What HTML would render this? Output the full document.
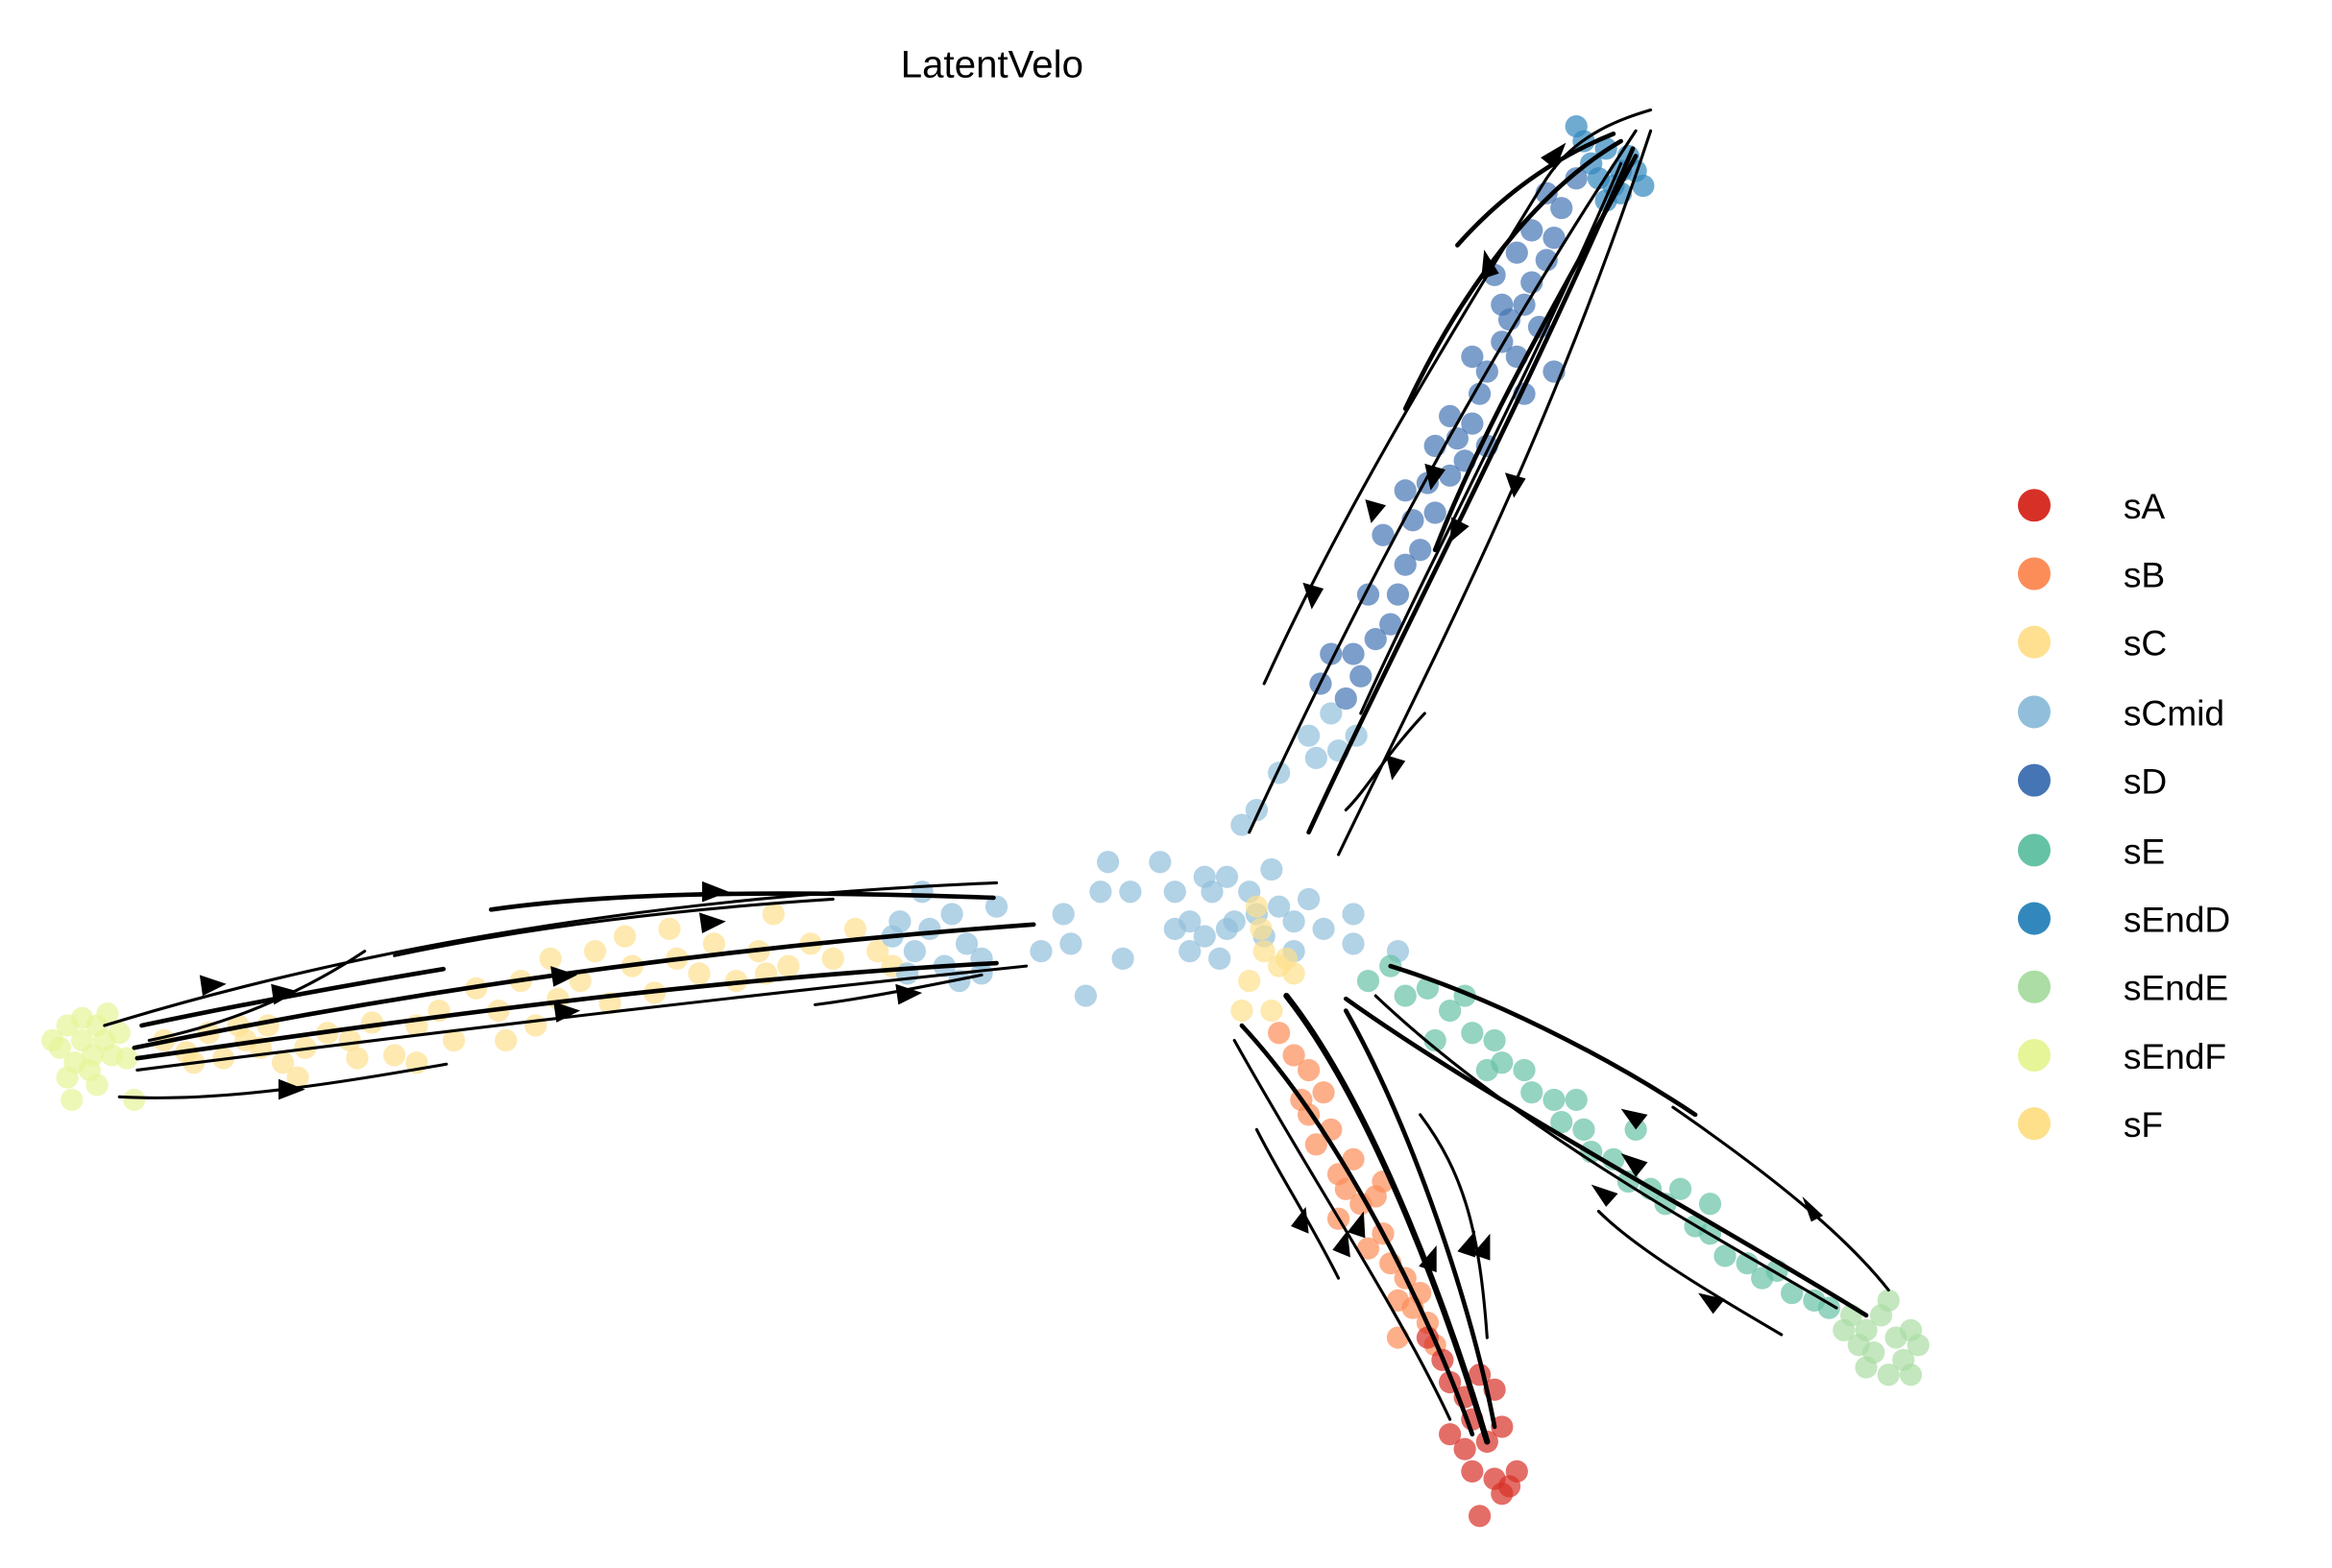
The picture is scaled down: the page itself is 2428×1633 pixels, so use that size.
<!DOCTYPE html>
<html><head><meta charset="utf-8"><style>
html,body{margin:0;padding:0;background:#fff;}
svg{display:block;}
text{font-family:"Liberation Sans","DejaVu Sans",sans-serif;fill:#000;}
</style></head><body>
<svg width="2428" height="1633" viewBox="0 0 1568 1055" xmlns="http://www.w3.org/2000/svg">
<text x="667" y="52" font-size="26" text-anchor="middle">LatentVelo</text>
<g fill-opacity="0.7">
<g fill="#fee090">
<circle cx="110" cy="700" r="7.5"/><circle cx="125" cy="708" r="7.5"/><circle cx="140" cy="695" r="7.5"/><circle cx="150" cy="712" r="7.5"/><circle cx="165" cy="700" r="7.5"/><circle cx="180" cy="690" r="7.5"/><circle cx="190" cy="715" r="7.5"/><circle cx="205" cy="705" r="7.5"/><circle cx="220" cy="695" r="7.5"/><circle cx="235" cy="700" r="7.5"/><circle cx="250" cy="688" r="7.5"/><circle cx="265" cy="710" r="7.5"/><circle cx="280" cy="690" r="7.5"/><circle cx="295" cy="680" r="7.5"/><circle cx="305" cy="700" r="7.5"/><circle cx="320" cy="665" r="7.5"/><circle cx="335" cy="680" r="7.5"/><circle cx="350" cy="660" r="7.5"/><circle cx="360" cy="690" r="7.5"/><circle cx="375" cy="672" r="7.5"/><circle cx="390" cy="660" r="7.5"/><circle cx="400" cy="640" r="7.5"/><circle cx="410" cy="675" r="7.5"/><circle cx="425" cy="650" r="7.5"/><circle cx="440" cy="668" r="7.5"/><circle cx="455" cy="645" r="7.5"/><circle cx="470" cy="655" r="7.5"/><circle cx="480" cy="635" r="7.5"/><circle cx="495" cy="660" r="7.5"/><circle cx="510" cy="640" r="7.5"/><circle cx="520" cy="615" r="7.5"/><circle cx="530" cy="650" r="7.5"/><circle cx="545" cy="635" r="7.5"/><circle cx="560" cy="645" r="7.5"/><circle cx="575" cy="625" r="7.5"/><circle cx="590" cy="640" r="7.5"/><circle cx="420" cy="630" r="7.5"/><circle cx="370" cy="645" r="7.5"/><circle cx="280" cy="715" r="7.5"/><circle cx="200" cy="725" r="7.5"/><circle cx="160" cy="690" r="7.5"/><circle cx="130" cy="715" r="7.5"/><circle cx="340" cy="700" r="7.5"/><circle cx="450" cy="625" r="7.5"/><circle cx="515" cy="655" r="7.5"/><circle cx="600" cy="650" r="7.5"/><circle cx="240" cy="712" r="7.5"/><circle cx="175" cy="705" r="7.5"/>
</g>
<g fill="#e6f598">
<circle cx="45" cy="690" r="7.5"/><circle cx="55" cy="700" r="7.5"/><circle cx="65" cy="690" r="7.5"/><circle cx="75" cy="710" r="7.5"/><circle cx="50" cy="715" r="7.5"/><circle cx="40" cy="705" r="7.5"/><circle cx="60" cy="720" r="7.5"/><circle cx="70" cy="700" r="7.5"/><circle cx="80" cy="695" r="7.5"/><circle cx="55" cy="685" r="7.5"/><circle cx="45" cy="725" r="7.5"/><circle cx="65" cy="730" r="7.5"/><circle cx="85" cy="712" r="7.5"/><circle cx="35" cy="700" r="7.5"/><circle cx="90" cy="740" r="7.5"/><circle cx="62" cy="710" r="7.5"/><circle cx="72" cy="682" r="7.5"/><circle cx="48" cy="740" r="7.5"/>
</g>
<g fill="#91bfdb">
<circle cx="600" cy="630" r="7.5"/><circle cx="615" cy="640" r="7.5"/><circle cx="625" cy="625" r="7.5"/><circle cx="635" cy="650" r="7.5"/><circle cx="650" cy="635" r="7.5"/><circle cx="660" cy="645" r="7.5"/><circle cx="640" cy="615" r="7.5"/><circle cx="610" cy="655" r="7.5"/><circle cx="670" cy="610" r="7.5"/><circle cx="660" cy="655" r="7.5"/><circle cx="605" cy="620" r="7.5"/><circle cx="620" cy="600" r="7.5"/><circle cx="645" cy="660" r="7.5"/><circle cx="700" cy="640" r="7.5"/><circle cx="715" cy="615" r="7.5"/><circle cx="720" cy="635" r="7.5"/><circle cx="730" cy="670" r="7.5"/><circle cx="745" cy="580" r="7.5"/><circle cx="760" cy="600" r="7.5"/><circle cx="740" cy="600" r="7.5"/><circle cx="755" cy="645" r="7.5"/><circle cx="780" cy="580" r="7.5"/><circle cx="790" cy="600" r="7.5"/><circle cx="800" cy="620" r="7.5"/><circle cx="810" cy="630" r="7.5"/><circle cx="815" cy="600" r="7.5"/><circle cx="820" cy="645" r="7.5"/><circle cx="830" cy="620" r="7.5"/><circle cx="840" cy="600" r="7.5"/><circle cx="850" cy="630" r="7.5"/><circle cx="855" cy="585" r="7.5"/><circle cx="860" cy="610" r="7.5"/><circle cx="870" cy="620" r="7.5"/><circle cx="880" cy="605" r="7.5"/><circle cx="835" cy="555" r="7.5"/><circle cx="845" cy="545" r="7.5"/><circle cx="825" cy="590" r="7.5"/><circle cx="800" cy="640" r="7.5"/><circle cx="790" cy="625" r="7.5"/><circle cx="810" cy="590" r="7.5"/><circle cx="870" cy="640" r="7.5"/><circle cx="890" cy="625" r="7.5"/><circle cx="910" cy="615" r="7.5"/><circle cx="940" cy="640" r="7.5"/><circle cx="910" cy="635" r="7.5"/><circle cx="860" cy="520" r="7.5"/><circle cx="880" cy="495" r="7.5"/><circle cx="900" cy="505" r="7.5"/><circle cx="885" cy="510" r="7.5"/><circle cx="895" cy="480" r="7.5"/><circle cx="912" cy="495" r="7.5"/><circle cx="825" cy="625" r="7.5"/><circle cx="845" cy="615" r="7.5"/>
</g>
<g fill="#fee08b">
<circle cx="845" cy="610" r="7.5"/><circle cx="850" cy="640" r="7.5"/><circle cx="860" cy="650" r="7.5"/><circle cx="870" cy="655" r="7.5"/><circle cx="840" cy="660" r="7.5"/><circle cx="835" cy="680" r="7.5"/><circle cx="855" cy="680" r="7.5"/><circle cx="865" cy="645" r="7.5"/><circle cx="848" cy="625" r="7.5"/>
</g>
<g fill="#fc8d59">
<circle cx="860" cy="695" r="7.5"/><circle cx="870" cy="710" r="7.5"/><circle cx="880" cy="720" r="7.5"/><circle cx="875" cy="740" r="7.5"/><circle cx="890" cy="735" r="7.5"/><circle cx="895" cy="760" r="7.5"/><circle cx="885" cy="770" r="7.5"/><circle cx="900" cy="790" r="7.5"/><circle cx="910" cy="780" r="7.5"/><circle cx="905" cy="800" r="7.5"/><circle cx="915" cy="810" r="7.5"/><circle cx="925" cy="805" r="7.5"/><circle cx="930" cy="830" r="7.5"/><circle cx="920" cy="840" r="7.5"/><circle cx="935" cy="850" r="7.5"/><circle cx="945" cy="860" r="7.5"/><circle cx="940" cy="875" r="7.5"/><circle cx="950" cy="880" r="7.5"/><circle cx="960" cy="890" r="7.5"/><circle cx="955" cy="870" r="7.5"/><circle cx="930" cy="795" r="7.5"/><circle cx="900" cy="820" r="7.5"/><circle cx="880" cy="750" r="7.5"/><circle cx="965" cy="905" r="7.5"/><circle cx="940" cy="900" r="7.5"/>
</g>
<g fill="#d73027">
<circle cx="960" cy="900" r="7.5"/><circle cx="970" cy="915" r="7.5"/><circle cx="975" cy="930" r="7.5"/><circle cx="985" cy="940" r="7.5"/><circle cx="990" cy="955" r="7.5"/><circle cx="995" cy="925" r="7.5"/><circle cx="1005" cy="935" r="7.5"/><circle cx="1010" cy="960" r="7.5"/><circle cx="1000" cy="970" r="7.5"/><circle cx="985" cy="975" r="7.5"/><circle cx="990" cy="990" r="7.5"/><circle cx="1005" cy="995" r="7.5"/><circle cx="1015" cy="1000" r="7.5"/><circle cx="1020" cy="990" r="7.5"/><circle cx="1010" cy="1005" r="7.5"/><circle cx="995" cy="1020" r="7.5"/><circle cx="975" cy="965" r="7.5"/>
</g>
<g fill="#4575b4">
<circle cx="905" cy="470" r="7.5"/><circle cx="915" cy="455" r="7.5"/><circle cx="910" cy="440" r="7.5"/><circle cx="925" cy="430" r="7.5"/><circle cx="935" cy="420" r="7.5"/><circle cx="920" cy="400" r="7.5"/><circle cx="940" cy="400" r="7.5"/><circle cx="945" cy="380" r="7.5"/><circle cx="955" cy="370" r="7.5"/><circle cx="950" cy="350" r="7.5"/><circle cx="965" cy="345" r="7.5"/><circle cx="960" cy="325" r="7.5"/><circle cx="975" cy="320" r="7.5"/><circle cx="985" cy="310" r="7.5"/><circle cx="980" cy="295" r="7.5"/><circle cx="990" cy="285" r="7.5"/><circle cx="975" cy="280" r="7.5"/><circle cx="995" cy="265" r="7.5"/><circle cx="1000" cy="250" r="7.5"/><circle cx="990" cy="240" r="7.5"/><circle cx="1010" cy="230" r="7.5"/><circle cx="1020" cy="240" r="7.5"/><circle cx="1015" cy="215" r="7.5"/><circle cx="1025" cy="205" r="7.5"/><circle cx="1030" cy="190" r="7.5"/><circle cx="1035" cy="220" r="7.5"/><circle cx="1040" cy="175" r="7.5"/><circle cx="1045" cy="160" r="7.5"/><circle cx="1030" cy="155" r="7.5"/><circle cx="1050" cy="140" r="7.5"/><circle cx="1040" cy="130" r="7.5"/><circle cx="1060" cy="120" r="7.5"/><circle cx="1020" cy="170" r="7.5"/><circle cx="1005" cy="185" r="7.5"/><circle cx="1045" cy="250" r="7.5"/><circle cx="1000" cy="300" r="7.5"/><circle cx="965" cy="300" r="7.5"/><circle cx="945" cy="330" r="7.5"/><circle cx="930" cy="360" r="7.5"/><circle cx="895" cy="440" r="7.5"/><circle cx="888" cy="460" r="7.5"/><circle cx="1025" cy="265" r="7.5"/><circle cx="1010" cy="205" r="7.5"/>
</g>
<g fill="#3288bd">
<circle cx="1070" cy="110" r="7.5"/><circle cx="1080" cy="100" r="7.5"/><circle cx="1090" cy="115" r="7.5"/><circle cx="1095" cy="105" r="7.5"/><circle cx="1085" cy="125" r="7.5"/><circle cx="1075" cy="120" r="7.5"/><circle cx="1100" cy="115" r="7.5"/><circle cx="1065" cy="95" r="7.5"/><circle cx="1080" cy="135" r="7.5"/><circle cx="1060" cy="85" r="7.5"/><circle cx="1105" cy="125" r="7.5"/><circle cx="1090" cy="130" r="7.5"/>
</g>
<g fill="#66c2a5">
<circle cx="920" cy="660" r="7.5"/><circle cx="935" cy="650" r="7.5"/><circle cx="945" cy="670" r="7.5"/><circle cx="960" cy="665" r="7.5"/><circle cx="975" cy="680" r="7.5"/><circle cx="985" cy="670" r="7.5"/><circle cx="990" cy="695" r="7.5"/><circle cx="1005" cy="700" r="7.5"/><circle cx="1010" cy="715" r="7.5"/><circle cx="1025" cy="720" r="7.5"/><circle cx="1030" cy="735" r="7.5"/><circle cx="1045" cy="740" r="7.5"/><circle cx="1050" cy="755" r="7.5"/><circle cx="1065" cy="760" r="7.5"/><circle cx="1070" cy="775" r="7.5"/><circle cx="1085" cy="780" r="7.5"/><circle cx="1095" cy="795" r="7.5"/><circle cx="1110" cy="800" r="7.5"/><circle cx="1120" cy="810" r="7.5"/><circle cx="1130" cy="800" r="7.5"/><circle cx="1140" cy="825" r="7.5"/><circle cx="1150" cy="830" r="7.5"/><circle cx="1160" cy="845" r="7.5"/><circle cx="1175" cy="850" r="7.5"/><circle cx="1185" cy="860" r="7.5"/><circle cx="1195" cy="855" r="7.5"/><circle cx="1205" cy="870" r="7.5"/><circle cx="1220" cy="875" r="7.5"/><circle cx="1230" cy="880" r="7.5"/><circle cx="1060" cy="740" r="7.5"/><circle cx="1100" cy="760" r="7.5"/><circle cx="1000" cy="720" r="7.5"/><circle cx="965" cy="700" r="7.5"/><circle cx="1150" cy="810" r="7.5"/>
</g>
<g fill="#abdda4">
<circle cx="1245" cy="885" r="7.5"/><circle cx="1255" cy="895" r="7.5"/><circle cx="1265" cy="885" r="7.5"/><circle cx="1275" cy="900" r="7.5"/><circle cx="1260" cy="910" r="7.5"/><circle cx="1250" cy="905" r="7.5"/><circle cx="1280" cy="915" r="7.5"/><circle cx="1285" cy="895" r="7.5"/><circle cx="1270" cy="875" r="7.5"/><circle cx="1290" cy="905" r="7.5"/><circle cx="1255" cy="920" r="7.5"/><circle cx="1270" cy="925" r="7.5"/><circle cx="1240" cy="895" r="7.5"/><circle cx="1285" cy="925" r="7.5"/>
</g>
</g>
<g fill="none" stroke="#000" stroke-linecap="round">
<path d="M92,712 C250,690 450,660 670,648" stroke-width="3"/>
<path d="M90,705 C250,672 450,640 695,622" stroke-width="3"/>
<path d="M92,720 C250,700 450,675 690,650" stroke-width="2"/>
<path d="M70,690 C200,650 400,605 670,594" stroke-width="2"/>
<path d="M80,738 C150,742 230,728 300,716" stroke-width="2"/>
<path d="M95,690 C180,672 250,660 298,652" stroke-width="3"/>
<path d="M330,612 C400,602 500,598 668,604" stroke-width="3"/>
<path d="M265,643 C350,625 450,612 560,605" stroke-width="2"/>
<path d="M548,676 C580,672 620,664 660,656" stroke-width="2"/>
<path d="M100,700 C150,690 200,670 245,640" stroke-width="2"/>
<path d="M840,560 C900,430 980,270 1100,88" stroke-width="2"/>
<path d="M880,560 C940,430 1020,280 1098,100" stroke-width="3"/>
<path d="M900,575 C960,450 1040,300 1110,88" stroke-width="2"/>
<path d="M850,460 C900,350 960,250 1040,120 C1060,90 1090,80 1110,74" stroke-width="2"/>
<path d="M945,275 C980,200 1030,130 1090,95" stroke-width="3"/>
<path d="M980,165 C1020,120 1060,100 1085,90" stroke-width="3"/>
<path d="M915,480 C960,380 1030,250 1090,110" stroke-width="2"/>
<path d="M965,370 C1000,280 1060,180 1100,105" stroke-width="3"/>
<path d="M958,480 C930,510 920,530 905,545" stroke-width="2"/>
<path d="M990,965 C960,880 900,760 835,690" stroke-width="3"/>
<path d="M1000,970 C970,870 920,740 865,670" stroke-width="4"/>
<path d="M1005,960 C990,880 950,760 905,680" stroke-width="3"/>
<path d="M975,955 C940,880 880,790 830,700" stroke-width="2"/>
<path d="M900,860 C880,820 860,790 845,760" stroke-width="2"/>
<path d="M1000,900 C995,830 985,790 955,750" stroke-width="2"/>
<path d="M1255,885 C1150,820 1000,740 905,672" stroke-width="3"/>
<path d="M1235,880 C1150,830 1020,760 925,670" stroke-width="2"/>
<path d="M1198,898 C1150,870 1100,840 1075,815" stroke-width="2"/>
<path d="M1270,868 C1240,830 1190,790 1125,745" stroke-width="2"/>
<path d="M1140,750 C1080,710 1000,670 935,650" stroke-width="3"/>
</g>
<g fill="#000">
<polygon points="152,662 134,656 136,670"/>
<polygon points="200,667 182,662 184,676"/>
<polygon points="388,656 370,650 372,664"/>
<polygon points="390,680 372,674 374,688"/>
<polygon points="490,600 472,593 472,607"/>
<polygon points="488,620 470,614 472,628"/>
<polygon points="205,733 187,726 187,740"/>
<polygon points="620,668 602,662 604,676"/>
<polygon points="1053,96 1036,106 1046,114"/>
<polygon points="998,168 996,188 1008,184"/>
<polygon points="962,330 958,312 972,316"/>
<polygon points="975,365 976,348 988,354"/>
<polygon points="1018,335 1012,318 1026,322"/>
<polygon points="882,410 876,392 890,396"/>
<polygon points="936,525 932,508 945,512"/>
<polygon points="922,352 918,336 932,340"/>
<polygon points="878,812 880,830 868,825"/>
<polygon points="906,828 908,846 896,841"/>
<polygon points="917,815 918,833 906,829"/>
<polygon points="966,838 966,856 954,852"/>
<polygon points="992,828 992,846 980,842"/>
<polygon points="1002,830 1002,848 990,844"/>
<polygon points="1090,746 1108,750 1100,760"/>
<polygon points="1090,776 1108,782 1100,792"/>
<polygon points="1070,797 1088,803 1080,812"/>
<polygon points="1142,870 1160,874 1152,884"/>
<polygon points="1212,805 1226,818 1218,822"/>
</g>
<g font-size="24">
<circle cx="1368" cy="340" r="11" fill="#d73027"/><text x="1428" y="349">sA</text>
<circle cx="1368" cy="386" r="11" fill="#fc8d59"/><text x="1428" y="395">sB</text>
<circle cx="1368" cy="432" r="11" fill="#fee090"/><text x="1428" y="441">sC</text>
<circle cx="1368" cy="479" r="11" fill="#91bfdb"/><text x="1428" y="488">sCmid</text>
<circle cx="1368" cy="525" r="11" fill="#4575b4"/><text x="1428" y="534">sD</text>
<circle cx="1368" cy="572" r="11" fill="#66c2a5"/><text x="1428" y="581">sE</text>
<circle cx="1368" cy="618" r="11" fill="#3288bd"/><text x="1428" y="627">sEndD</text>
<circle cx="1368" cy="664" r="11" fill="#abdda4"/><text x="1428" y="673">sEndE</text>
<circle cx="1368" cy="710" r="11" fill="#e6f598"/><text x="1428" y="719">sEndF</text>
<circle cx="1368" cy="756" r="11" fill="#fee08b"/><text x="1428" y="765">sF</text>
</g>
</svg>
</body></html>
